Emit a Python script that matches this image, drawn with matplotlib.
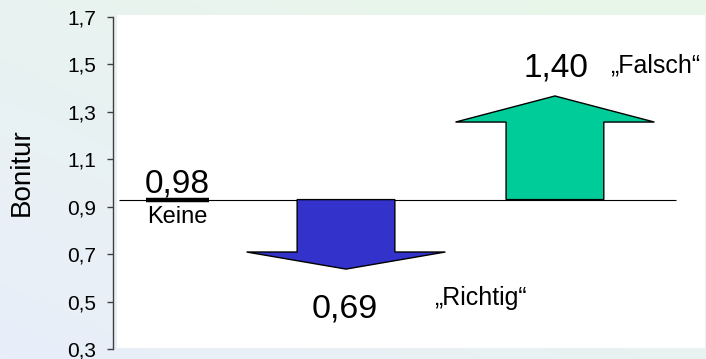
import numpy as np
import matplotlib
matplotlib.use("Agg")
import matplotlib.pyplot as plt
from matplotlib.patches import Polygon, Rectangle
from matplotlib.colors import LinearSegmentedColormap

plt.rcParams['font.family'] = ['Liberation Sans', 'DejaVu Sans']

# ---- data ----
categories = ["Keine", "„Richtig“", "„Falsch“"]
value_labels = ["0,98", "0,69", "1,40"]
baseline = 0.93            # drawn level of the reference line
tips = [0.93, 0.637, 1.367]  # drawn arrow tip levels
head_len = [0.0, 0.072, 0.11]
y_ticks = [0.3, 0.5, 0.7, 0.9, 1.1, 1.3, 1.5, 1.7]
y_tick_labels = ["0,3", "0,5", "0,7", "0,9", "1,1", "1,3", "1,5", "1,7"]
x_pos = [0.0, 1.0, 2.24]
colors = ["black", "#3333CC", "#00CC99"]

W, H = 706, 359
fig = plt.figure(figsize=(W / 100, H / 100), dpi=100)

# background gradient
bg = fig.add_axes([0, 0, 1, 1], zorder=-10)
xx, yy = np.meshgrid(np.linspace(0, 1, 200), np.linspace(0, 1, 100))
grad = np.clip(0.55 * xx + 0.6 * (1 - yy), 0, 1)
cmap = LinearSegmentedColormap.from_list("bg", ["#e9eefa", "#e8f6ea"])
bg.imshow(grad, cmap=cmap, aspect='auto', extent=[0, 1, 0, 1], origin='upper')
bg.set_axis_off()
# white plot area
bg.add_patch(Rectangle((117 / W, 1 - 348 / H), (705 - 117) / W, (348 - 15) / H,
                       transform=fig.transFigure, facecolor='white', edgecolor='none', zorder=2))

# main axes
ax_left = 113 / W
ax_bottom = 1 - 349 / H
ax_height = (349 - 17) / H
ax = fig.add_axes([ax_left, ax_bottom, 1 - ax_left, ax_height])
ax.set_facecolor('none')
u = 168.5  # px per x unit
ax.set_xlim(-(177.5 - 113) / u, (706 - 177.5) / u)
ax.set_ylim(0.3, 1.7)

for s in ['top', 'right', 'bottom']:
    ax.spines[s].set_visible(False)
ax.spines['left'].set_color('#404040')
ax.spines['left'].set_linewidth(1.0)
ax.set_xticks([])
ax.set_yticks(y_ticks)
ax.set_yticklabels(y_tick_labels, fontsize=15)
ax.tick_params(axis='y', length=4, width=1, color='#404040', pad=8)

# baseline
ax.hlines(baseline, x_pos[0] - 0.35, x_pos[2] + 0.72, color='black', lw=0.8, zorder=3)
# "Keine" bar
ax.hlines(tips[0], x_pos[0] - 0.185, x_pos[0] + 0.185, color=colors[0], lw=3.2, zorder=4)

# arrows
shaft_hw, head_hw = 0.29, 0.59
for i in (1, 2):
    x = x_pos[i]
    tip = tips[i]
    d = np.sign(tip - baseline)
    hb = tip - d * head_len[i]
    pts = [(x - shaft_hw, baseline), (x - shaft_hw, hb), (x - head_hw, hb),
           (x, tip), (x + head_hw, hb), (x + shaft_hw, hb), (x + shaft_hw, baseline)]
    ax.add_patch(Polygon(pts, closed=True, facecolor=colors[i], edgecolor='black',
                         lw=1.0, zorder=3, joinstyle='miter'))

# labels
ax.text(x_pos[0], baseline + 0.032, value_labels[0], ha='center', va='baseline', fontsize=24)
ax.text(x_pos[0], baseline - 0.099, categories[0], ha='center', va='baseline', fontsize=17)
ax.text(x_pos[1] - 0.006, tips[1] - 0.206, value_labels[1], ha='center', va='baseline', fontsize=24.5)
ax.text(x_pos[1] + 0.522, tips[1] - 0.151, categories[1], ha='left', va='baseline', fontsize=18)
ax.text(x_pos[2] + 0.006, tips[2] + 0.08, value_labels[2], ha='center', va='baseline', fontsize=24)
ax.text(x_pos[2] + 0.327, tips[2] + 0.101, categories[2], ha='left', va='baseline', fontsize=18)

fig.text(22 / W, 1 - 172 / H, "Bonitur", rotation=90, ha='center', va='center', fontsize=20)

fig.savefig("out.png", dpi=100)
